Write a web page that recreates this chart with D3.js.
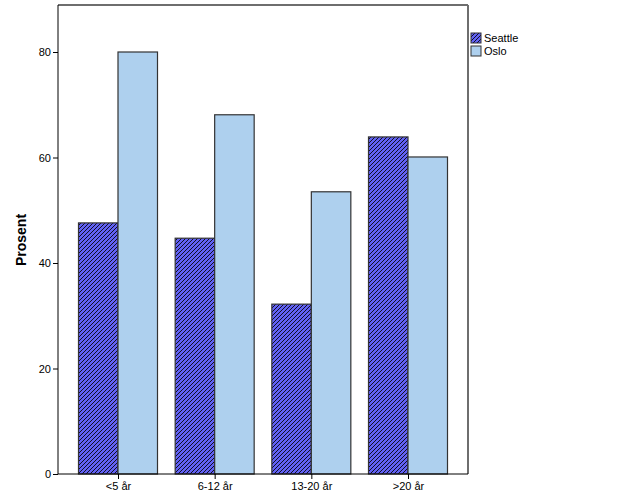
<!DOCTYPE html>
<html><head><meta charset="utf-8">
<script src="https://cdn.jsdelivr.net/npm/d3@7"></script>
<style>body{margin:0;background:#fff}svg{display:block}text{font-family:"Liberation Sans",Arial,sans-serif}</style>
</head><body>
<script>
const categories = ["<5 år", "6-12 år", "13-20 år", ">20 år"];
const seriesNames = ["Seattle", "Oslo"];
const seattle = [47.6, 44.7, 32.2, 63.9];
const oslo = [80.0, 68.1, 53.5, 60.1];
const yTicks = [0, 20, 40, 60, 80];

const W = 626, H = 501;
const L = 58, R = 468, T = 5, B = 474;
const svg = d3.select("body").append("svg").attr("width", W).attr("height", H);

const defs = svg.append("defs");
const pat = defs.append("pattern").attr("id", "hatch").attr("patternUnits", "userSpaceOnUse")
  .attr("width", 4).attr("height", 4);
pat.append("rect").attr("width", 4).attr("height", 4).attr("fill", "#6262f4");
pat.append("path").attr("d", "M-1,1 L1,-1 M0,4 L4,0 M3,5 L5,3").attr("stroke", "#000").attr("stroke-width", 0.85);

const y = d3.scaleLinear().domain([0, 80]).range([B, 52]);
const x = d3.scalePoint().domain(categories).range([L + 60, R - 60]);
const bw = 39.5;

// frame
svg.append("line").attr("x1", L).attr("x2", R).attr("y1", T).attr("y2", T).attr("stroke", "#6e6e6e").attr("stroke-width", 2);
svg.append("line").attr("x1", R).attr("x2", R).attr("y1", T).attr("y2", B).attr("stroke", "#6e6e6e").attr("stroke-width", 2);

const series = [
  {name: seriesNames[0], values: seattle, fill: "url(#hatch)"},
  {name: seriesNames[1], values: oslo, fill: "#aed0ee"}
];

series.forEach((s, si) => {
  svg.append("g").selectAll("rect").data(s.values).join("rect")
    .attr("x", (d, i) => x(categories[i]) + (si === 0 ? -bw : 0))
    .attr("y", d => y(d))
    .attr("width", bw)
    .attr("height", d => B - y(d))
    .attr("fill", s.fill)
    .attr("stroke", "#333")
    .attr("stroke-width", 1.2);
});

// axes
const yAxis = svg.append("g").attr("transform", `translate(${L},0)`)
  .call(d3.axisLeft(y).tickValues(yTicks).tickSize(5).tickPadding(2).tickFormat(d3.format("d")));
yAxis.select(".domain").attr("d", `M0,${T}V${B}`).attr("stroke", "#000");
yAxis.selectAll("text").attr("font-size", 11).attr("fill", "#000");

const xAxis = svg.append("g").attr("transform", `translate(0,${B})`)
  .call(d3.axisBottom(x).tickSize(5).tickPadding(3).tickSizeOuter(0));
xAxis.select(".domain").attr("d", `M${L},0H${R}`).attr("stroke", "#000");
xAxis.selectAll("text").attr("font-size", 11).attr("fill", "#000");

svg.append("text").attr("transform", `translate(26,240) rotate(-90)`)
  .attr("text-anchor", "middle").attr("font-weight", "bold").attr("font-size", 14).text("Prosent");

// legend
const lg = svg.append("g").attr("transform", `translate(471,33)`);
series.forEach((s, i) => {
  lg.append("rect").attr("x", 0).attr("y", i * 13).attr("width", 10).attr("height", 10)
    .attr("fill", s.fill).attr("stroke", "#333").attr("stroke-width", 1);
  lg.append("text").attr("x", 13).attr("y", i * 13 + 9).attr("font-size", 11).text(s.name);
});
</script>
</body></html>
